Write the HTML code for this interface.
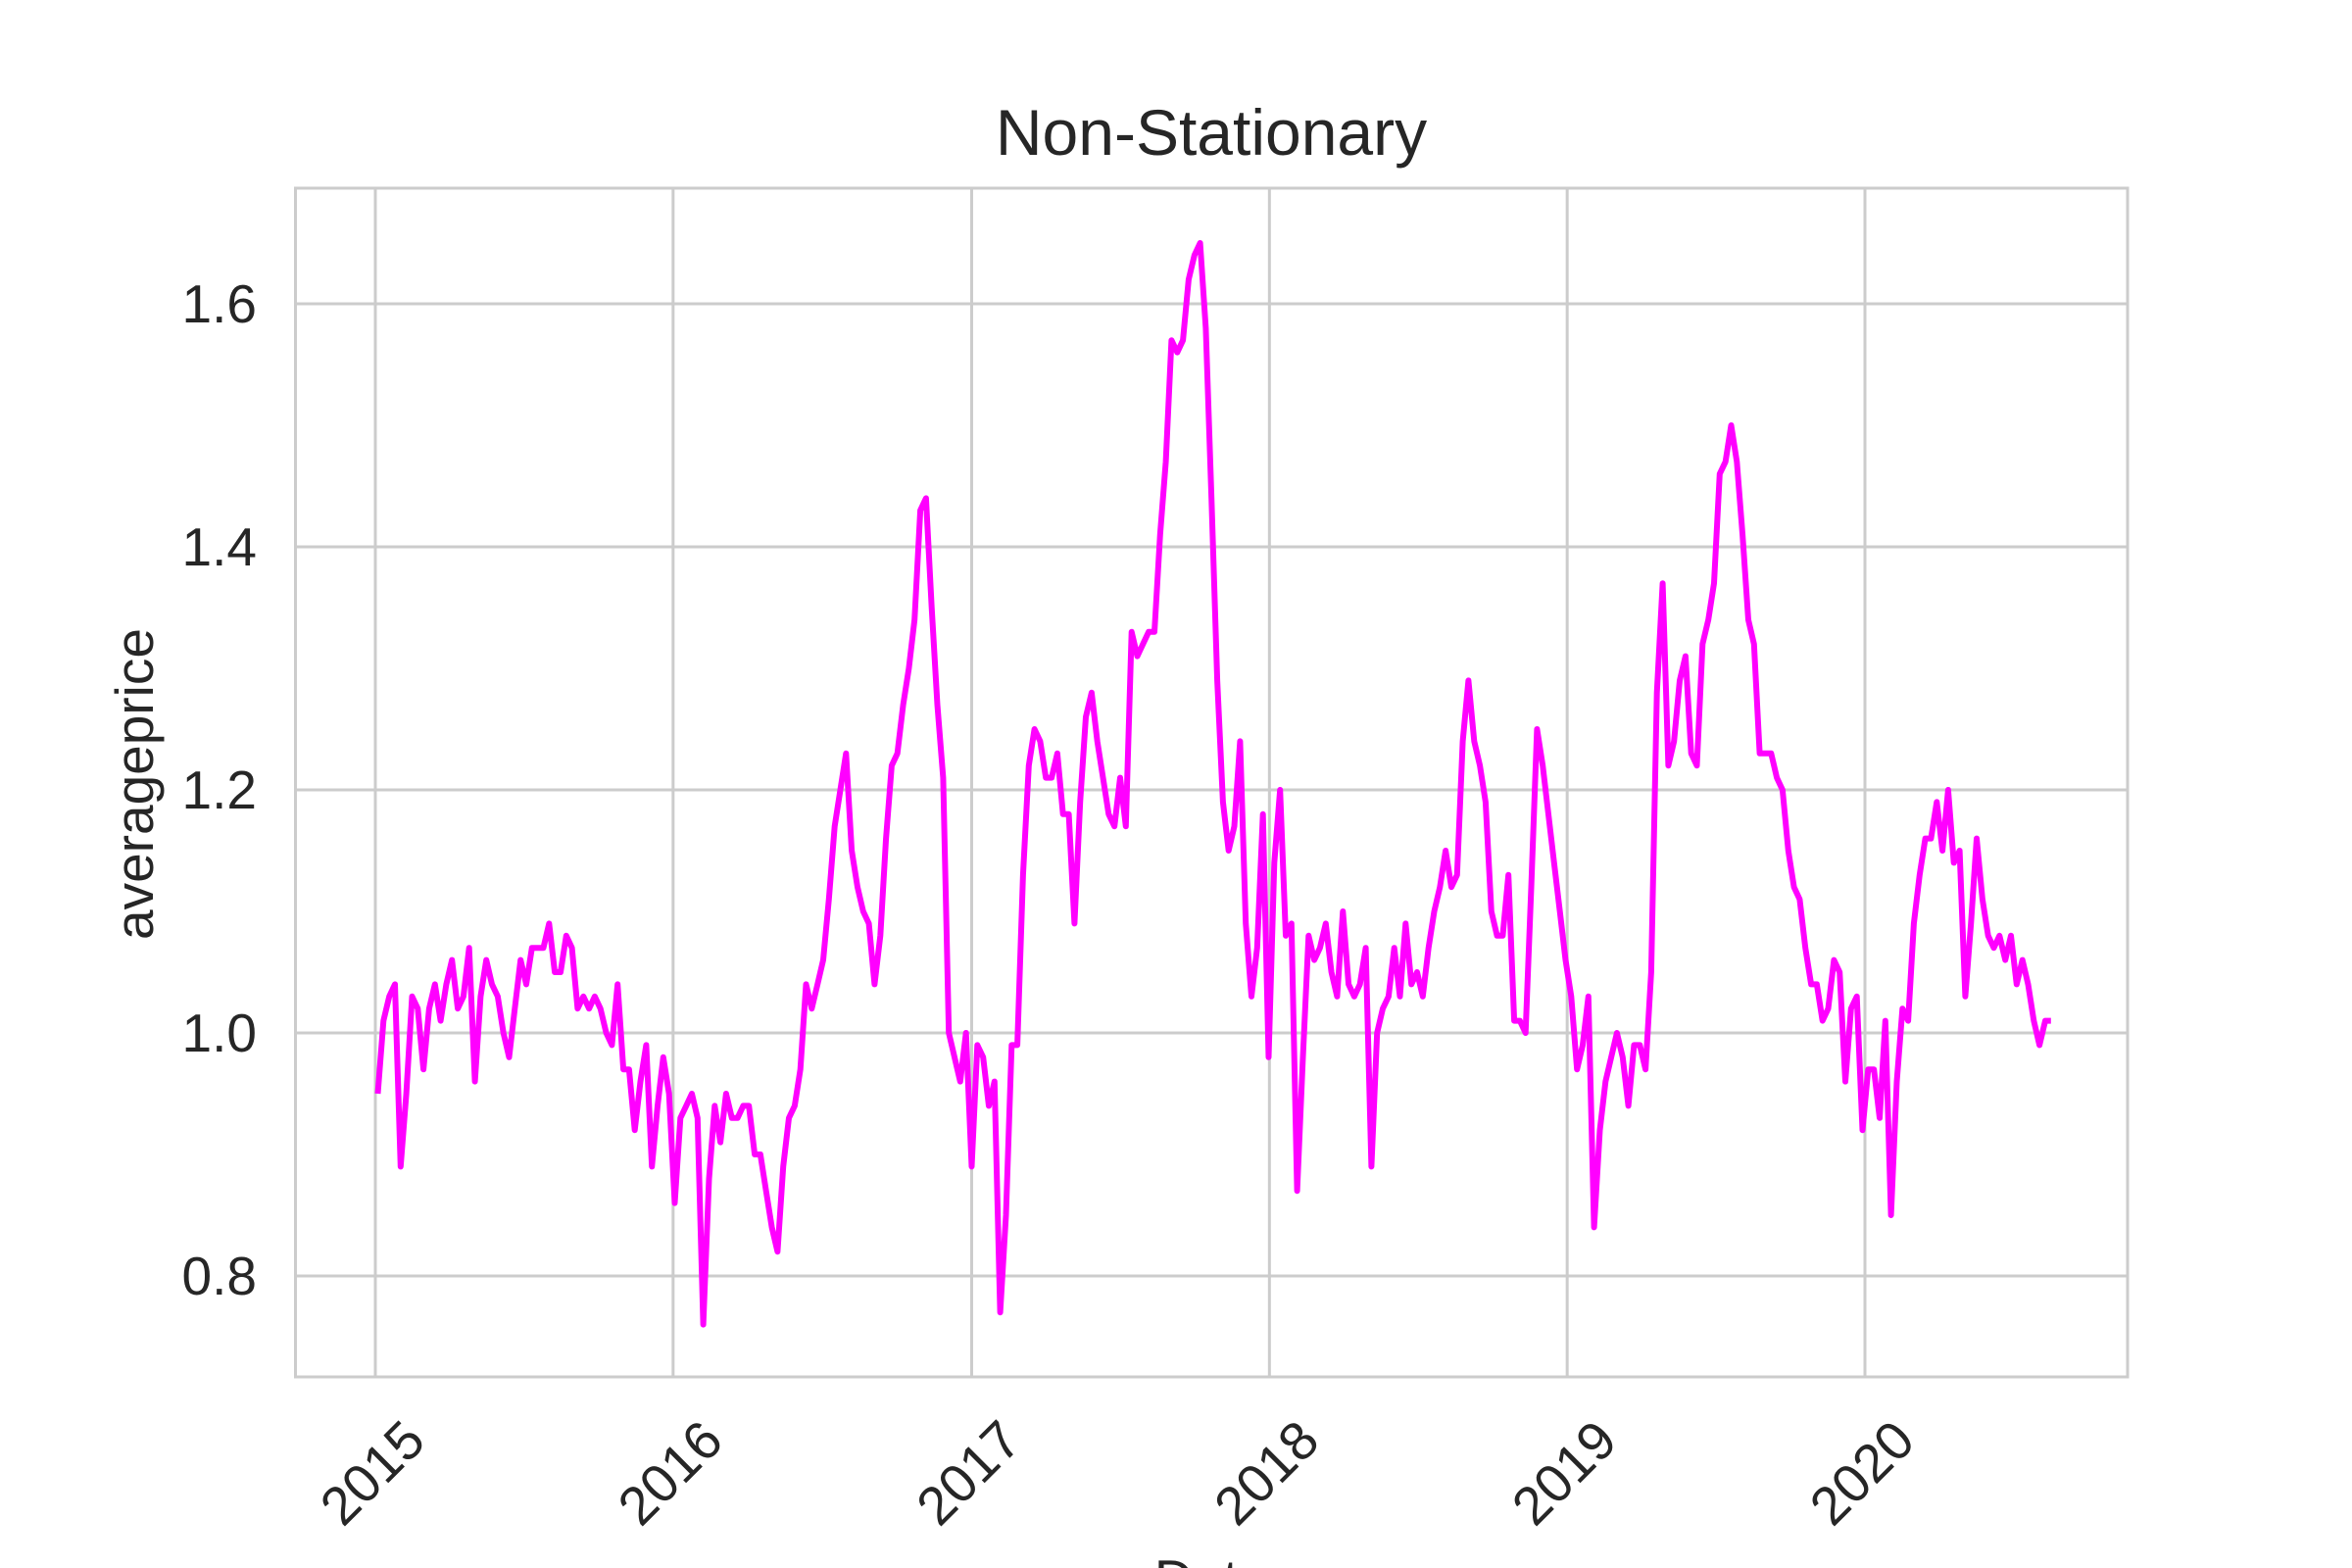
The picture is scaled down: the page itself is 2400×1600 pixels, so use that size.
<!DOCTYPE html>
<html><head><meta charset="utf-8"><style>
html,body{margin:0;padding:0;background:#fff;}
svg{display:block;font-family:"Liberation Sans",Arial,sans-serif;}
</style></head><body>
<svg id="chart" width="2400" height="1600" viewBox="0 0 2400 1600" xmlns="http://www.w3.org/2000/svg">
<rect width="2400" height="1600" fill="#fff"/>
<g id="grid"></g>
<rect x="301.5" y="192" width="1869.5" height="1213" fill="none" stroke="#cccccc" stroke-width="3"/>
<g id="series"></g>
<g id="ticks"></g>
<text x="1236" y="158" font-size="66" text-anchor="middle" fill="#262626">Non-Stationary</text>
<text transform="translate(156,800) rotate(-90)" font-size="55" text-anchor="middle" fill="#262626">averageprice</text>
<text x="1236" y="1630" font-size="55" text-anchor="middle" fill="#262626">Date</text>
</svg>
<script>
const yTicks = [0.8, 1.0, 1.2, 1.4, 1.6];
const yTickLabels = ["0.8", "1.0", "1.2", "1.4", "1.6"];
const xTickYears = [2015, 2016, 2017, 2018, 2019, 2020];
const xTickLabels = ["2015", "2016", "2017", "2018", "2019", "2020"];
const startDate = "2015-01-04";
const prices = [0.95,1.01,1.03,1.04,0.89,0.95,1.03,1.02,0.97,1.02,1.04,1.01,1.04,1.06,1.02,1.03,1.07,0.96,1.03,1.06,1.04,1.03,1.00,0.98,1.02,1.06,1.04,1.07,1.07,1.07,1.09,1.05,1.05,1.08,1.07,1.02,1.03,1.02,1.03,1.02,1.00,0.99,1.04,0.97,0.97,0.92,0.96,0.99,0.89,0.94,0.98,0.95,0.86,0.93,0.94,0.95,0.93,0.76,0.88,0.94,0.91,0.95,0.93,0.93,0.94,0.94,0.90,0.90,0.87,0.84,0.82,0.89,0.93,0.94,0.97,1.04,1.02,1.04,1.06,1.11,1.17,1.20,1.23,1.15,1.12,1.10,1.09,1.04,1.08,1.16,1.22,1.23,1.27,1.30,1.34,1.43,1.44,1.35,1.27,1.21,1.00,0.98,0.96,1.00,0.89,0.99,0.98,0.94,0.96,0.77,0.85,0.99,0.99,1.13,1.22,1.25,1.24,1.21,1.21,1.23,1.18,1.18,1.09,1.19,1.26,1.28,1.24,1.21,1.18,1.17,1.21,1.17,1.33,1.31,1.32,1.33,1.33,1.41,1.47,1.57,1.56,1.57,1.62,1.64,1.65,1.58,1.44,1.29,1.19,1.15,1.17,1.24,1.09,1.03,1.07,1.18,0.98,1.14,1.20,1.08,1.09,0.87,0.98,1.08,1.06,1.07,1.09,1.05,1.03,1.10,1.04,1.03,1.04,1.07,0.89,1.00,1.02,1.03,1.07,1.03,1.09,1.04,1.05,1.03,1.07,1.10,1.12,1.15,1.12,1.13,1.24,1.29,1.24,1.22,1.19,1.10,1.08,1.08,1.13,1.01,1.01,1.00,1.12,1.25,1.22,1.18,1.14,1.10,1.06,1.03,0.97,0.99,1.03,0.84,0.92,0.96,0.98,1.00,0.98,0.94,0.99,0.99,0.97,1.05,1.28,1.37,1.22,1.24,1.29,1.31,1.23,1.22,1.32,1.34,1.37,1.46,1.47,1.50,1.47,1.41,1.34,1.32,1.23,1.23,1.23,1.21,1.20,1.15,1.12,1.11,1.07,1.04,1.04,1.01,1.02,1.06,1.05,0.96,1.02,1.03,0.92,0.97,0.97,0.93,1.01,0.85,0.96,1.02,1.01,1.09,1.13,1.16,1.16,1.19,1.15,1.20,1.14,1.15,1.03,1.09,1.16,1.11,1.08,1.07,1.08,1.06,1.08,1.04,1.06,1.04,1.01,0.99,1.01,1.01];

const NS = "http://www.w3.org/2000/svg";
const t2015 = Date.UTC(2015,0,1), t2020 = Date.UTC(2020,0,1);
function xScale(ms){ return 383 + (ms - t2015) / (t2020 - t2015) * (1903 - 383); }
function yScale(v){ return 1054 - (v - 1.0) / 0.2 * 248; }
const start = Date.parse(startDate + "T00:00:00Z");
const grid = document.getElementById('grid');
const ticks = document.getElementById('ticks');

yTicks.forEach((v,i)=>{
  const y = yScale(v);
  const l = document.createElementNS(NS,'line');
  l.setAttribute('x1',301.5); l.setAttribute('x2',2171); l.setAttribute('y1',y); l.setAttribute('y2',y);
  l.setAttribute('stroke','#cccccc'); l.setAttribute('stroke-width','3');
  
  
  grid.appendChild(l);
  const t = document.createElementNS(NS,'text');
  t.setAttribute('x',262); t.setAttribute('y',y+19);
  t.setAttribute('text-anchor','end'); t.setAttribute('font-size','55'); t.setAttribute('fill','#262626');
  t.textContent = yTickLabels[i];
  
  
  ticks.appendChild(t);
});
xTickYears.forEach((yr,i)=>{
  const x = xScale(Date.UTC(yr,0,1));
  const l = document.createElementNS(NS,'line');
  l.setAttribute('x1',x); l.setAttribute('x2',x); l.setAttribute('y1',192); l.setAttribute('y2',1405);
  l.setAttribute('stroke','#cccccc'); l.setAttribute('stroke-width','3');
  
  
  grid.appendChild(l);
  const t = document.createElementNS(NS,'text');
  t.setAttribute('transform','translate('+(x)+',1506) rotate(-45)');
  t.setAttribute('text-anchor','middle'); t.setAttribute('dominant-baseline','middle');
  t.setAttribute('font-size','55'); t.setAttribute('fill','#262626');
  t.textContent = xTickLabels[i];
  
  
  ticks.appendChild(t);
});
const pts = prices.map((v,i)=> xScale(start + i*7*86400000).toFixed(1) + ',' + yScale(v).toFixed(1));
const pl = document.createElementNS(NS,'polyline');
pl.setAttribute('points', pts.join(' '));
pl.setAttribute('fill','none'); pl.setAttribute('stroke','#ff00ff'); pl.setAttribute('stroke-width','6');
pl.setAttribute('stroke-linejoin','round');


document.getElementById('series').appendChild(pl);
</script>
</body></html>
